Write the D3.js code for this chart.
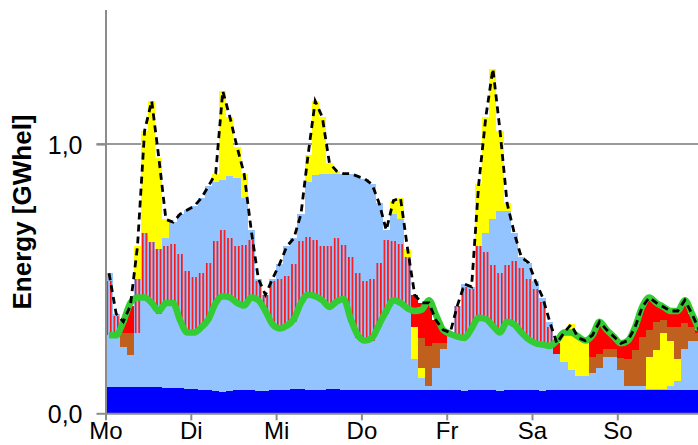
<!DOCTYPE html>
<html><head><meta charset="utf-8">
<script src="https://cdn.jsdelivr.net/npm/d3@7"></script>
<style>body{margin:0;background:#fff}svg{display:block}</style>
</head><body>
<script>
// Two-hour slots over one week (84 slots), values in GWhel
const days = ["Mo","Di","Mi","Do","Fr","Sa","So"];
const yTickValues = [0, 1.0];
const yTickLabels = ["0,0", "1,0"];

const darkBlue = [
 .098,.097,.097,.098,.099,.097,.096,.096,.095,.094,.093,.092,
 .090,.088,.085,.083,.080,.082,.085,.085,.086,.084,.083,.085,
 .086,.088,.089,.090,.088,.087,.088,.090,.089,.087,.086,.087,
 .088,.087,.086,.085,.086,.088,.087,.086,.085,.087,.088,.087,
 .086,.085,.084,.085,.087,.086,.085,.084,.085,.086,.087,.086,
 .085,.084,.085,.086,.087,.086,.085,.086,.087,.088,.087,.086,
 .086,.087,.088,.087,.086,.087,.086,.087,.088,.087,.086,.087];
const lightBlue = [
 .192,.193,.148,.117,.201,.333,.314,.274,.315,.306,.247,.208,
 .210,.232,.265,.327,.350,.348,.325,.315,.344,.336,.297,.245,
 .224,.232,.251,.320,.352,.343,.332,.300,.321,.333,.254,.193,
 .172,.183,.234,.285,.334,.322,.303,.114,.045,.013,.082,.153,
 .204,.195,.196,.225,.263,.264,.235,.216,.245,.234,.213,.184,
 .175,.166,.165,.134,.103,.074,.055,.054,.063,.082,.123,.124,
 .074,.013,.012,.013,.004,.003,.004,.013,.032,.153,.184,.183];
const striped = [
 .20,.07,0,0,.20,.24,.225,.24,.21,.23,.25,.23,
 .205,.20,.21,.23,.25,.22,.21,.225,.215,.07,.06,.16,
 .19,.19,.215,.23,.215,.215,.20,.23,.24,.205,.24,.24,
 .23,.23,.24,.275,.22,.22,.19,0,0,0,0,0,
 .01,.12,.19,.15,.27,.25,.23,.22,.22,.245,.24,.23,
 .20,.165,.07,0,0,0,0,0,0,0,0,0,
 0,0,0,0,0,0,0,0,0,0,0,0];
const lightBlueTop = [
 .03,.01,0,0,0,0,0,0,.03,.08,.15,.225,
 .265,.28,.285,.22,.187,.23,.255,.175,.035,.01,0,.01,
 .055,.11,.095,.10,.205,.24,.27,.27,.24,.265,.31,.36,
 .38,.35,.22,.035,.10,.09,0,0,0,0,0,0,
 0,0,.01,.01,0,.07,.17,.23,.20,.105,.04,.06,
 .03,.015,.02,0,0,0,0,0,0,0,0,0,
 0,0,0,0,0,0,0,0,0,0,0,0];
const yellow = [
 0,0,0,0,.12,.38,.525,.34,.07,0,0,0,
 0,0,0,.03,.33,.22,.115,.09,0,0,0,0,
 0,0,0,0,.10,.275,.21,.04,.01,0,0,0,
 0,0,0,0,.05,.08,.03,.12,.04,0,0,0,
 0,0,0,0,.23,.43,.56,.30,.03,0,0,0,
 0,0,0,0,.11,.17,.14,.13,0,0,0,0,
 0,0,0,0,.12,.145,.21,.17,.08,0,0,0];
const brown = [
 0,0,.055,.085,0,0,0,0,0,0,0,0,
 0,0,0,0,0,0,0,0,0,0,0,0,
 0,0,0,0,0,0,0,0,0,0,0,0,
 0,0,0,0,0,0,0,0,.11,.15,.09,.02,
 0,0,0,0,0,0,0,0,0,0,0,0,
 0,0,0,0,0,0,0,0,.06,.05,.03,.03,
 .045,.10,.135,.185,.10,.105,.045,.05,.12,.095,.05,.03];
const red = [
 0,0,.04,.10,0,0,0,0,0,0,0,0,
 0,0,0,0,0,0,0,0,0,0,0,0,
 0,0,0,0,0,0,0,0,0,0,0,0,
 0,0,0,0,0,0,0,.12,.13,.16,.085,.05,
 0,0,0,0,0,0,0,0,0,0,0,0,
 0,0,0,.04,0,0,0,0,.08,.12,.07,.045,
 .055,.07,.085,.11,.12,.07,.05,.06,.06,.085,.05,.01];
const demand = [
 .29,.29,.34,.41,.43,.43,.41,.38,.41,.41,.345,.30,
 .30,.32,.35,.41,.435,.43,.41,.40,.43,.42,.38,.33,
 .315,.325,.35,.41,.44,.435,.42,.395,.415,.425,.35,.29,
 .27,.28,.33,.38,.42,.41,.39,.38,.385,.42,.365,.31,
 .295,.285,.28,.315,.355,.35,.325,.30,.34,.33,.30,.275,
 .26,.255,.25,.27,.30,.30,.285,.27,.29,.34,.31,.285,
 .26,.27,.32,.395,.43,.41,.395,.38,.38,.42,.37,.31];

const W = 698, H = 445;
const colors = {
  darkBlue: "#0000ff", lightBlue: "#94c4ff", striped: "url(#stripes)",
  lightBlueTop: "#94c4ff", yellow: "#ffff00", brown: "#c0601e", red: "#ff0000"
};
const seriesData = {darkBlue, lightBlue, striped, lightBlueTop, yellow, brown, red};
const keys = Object.keys(seriesData);
const slotHours = 2;
const n = darkBlue.length;

const svg = d3.select("body").append("svg").attr("width", W).attr("height", H)
  .style("font-family", "'Liberation Sans', Arial, sans-serif");

const x = d3.scaleLinear().domain([0, 168]).range([105.5, 702.6]);
const y = d3.scaleLinear().domain([0, 1.5]).range([413.3, 9.5]);

const defs = svg.append("defs");
const hw = x(1) - x(0);
const pat = defs.append("pattern").attr("id", "stripes")
  .attr("patternUnits", "userSpaceOnUse").attr("x", x(0)).attr("y", 0)
  .attr("width", hw).attr("height", 8);
pat.append("rect").attr("width", hw).attr("height", 8).attr("fill", "#94c4ff");
pat.append("rect").attr("x", 0.9).attr("width", 1.6).attr("height", 8).attr("fill", "#ff1010");
defs.append("clipPath").attr("id", "plot").append("rect")
  .attr("x", x(0)).attr("y", 0).attr("width", W - x(0)).attr("height", y(0));

// gridline at 1,0
svg.append("line").attr("x1", x(0) - 9).attr("x2", W).attr("y1", y(1)).attr("y2", y(1))
  .attr("stroke", "#999").attr("stroke-width", 2);

const rows = d3.range(n).map(i => {
  const r = {h: i * slotHours};
  keys.forEach(k => r[k] = seriesData[k][i]);
  return r;
});
rows.push(Object.assign({}, rows[n - 1], {h: n * slotHours}));
const stacked = d3.stack().keys(keys)(rows);

const area = d3.area().curve(d3.curveStepAfter)
  .x(d => x(d.data.h)).y0(d => y(d[0])).y1(d => y(d[1]));

const g = svg.append("g").attr("clip-path", "url(#plot)");
g.selectAll("path.layer").data(stacked).join("path")
  .attr("class", "layer").attr("d", area)
  .attr("fill", d => colors[d.key]).attr("shape-rendering", "crispEdges");

const totals = d3.range(n).map(i => keys.reduce((s, k) => s + seriesData[k][i], 0));
const xMid = (d, i) => x(i * slotHours + slotHours / 2);

g.append("path").datum(demand).attr("fill", "none").attr("stroke", "#33cc33")
  .attr("stroke-width", 6.5).attr("stroke-linejoin", "round")
  .attr("d", d3.line().x(xMid).y(d => y(d)).curve(d3.curveMonotoneX));
g.append("path").datum(totals).attr("fill", "none").attr("stroke", "#000")
  .attr("stroke-width", 2.8).attr("stroke-dasharray", "7,5")
  .attr("d", d3.line().x(xMid).y(d => y(d)));

// axes
const yAxis = d3.axisLeft(y).tickValues(yTickValues)
  .tickFormat((d, i) => yTickLabels[i]).tickSize(9).tickSizeOuter(0).tickPadding(14);
const ya = svg.append("g").attr("transform", `translate(${x(0)},0)`).call(yAxis);
const xAxis = d3.axisBottom(x).tickValues(days.map((d, i) => i * 24))
  .tickFormat((d, i) => days[i]).tickSize(7).tickSizeOuter(0).tickPadding(2);
const xa = svg.append("g").attr("transform", `translate(0,${y(0)})`).call(xAxis);
[ya, xa].forEach(a => {
  a.select(".domain").attr("stroke", "#8c8c8c").attr("stroke-width", 2);
  a.selectAll(".tick line").attr("stroke", "#8c8c8c").attr("stroke-width", 2);
  a.selectAll("text").attr("font-size", 24).attr("fill", "#000")
    .style("font-family", "'Liberation Sans', Arial, sans-serif");
});
ya.selectAll("text").attr("font-size", 25).attr("dy", "0.36em");

svg.append("text").attr("transform", "translate(31,212) rotate(-90)")
  .attr("text-anchor", "middle").attr("font-size", 26).attr("font-weight", "bold")
  .text("Energy [GWhel]");
</script>
</body></html>
